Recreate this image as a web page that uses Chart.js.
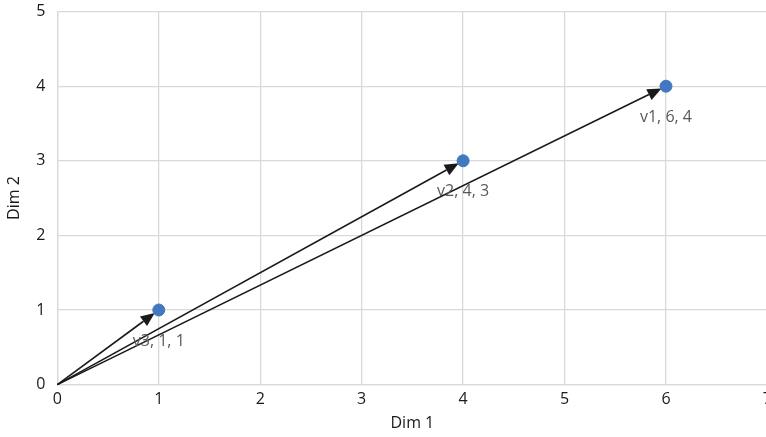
<!DOCTYPE html>
<html>
<head>
<meta charset="utf-8">
<script src="https://cdn.jsdelivr.net/npm/chart.js@4"></script>
<style>
    html, body { margin: 0; padding: 0; background: #fff; overflow: hidden; }
    #wrap { width: 777px; height: 447px; margin-top: -10px; }
</style>
</head>
<body>
<div id="wrap"><canvas id="vectorChart"></canvas></div>
<script>
const vectorNames = ['v1', 'v2', 'v3'];
const dim1 = [6, 4, 1];
const dim2 = [4, 3, 1];
const xTicks = [0, 1, 2, 3, 4, 5, 6, 7];
const yTicks = [0, 1, 2, 3, 4, 5];

const FONT = '"Open Sans", "Noto Sans", sans-serif';

// arrows from the origin to every point, drawn under the markers
const arrowPlugin = {
    id: 'arrows',
    beforeDatasetsDraw(chart) {
        const { ctx, scales: { x, y } } = chart;
        const x0 = x.getPixelForValue(0);
        const y0 = y.getPixelForValue(0);
        ctx.save();
        ctx.strokeStyle = '#1a1a1a';
        ctx.fillStyle = '#1a1a1a';
        ctx.lineWidth = 1.6;
        dim1.forEach((v, i) => {
            const px = x.getPixelForValue(v);
            const py = y.getPixelForValue(dim2[i]);
            const ang = Math.atan2(py - y0, px - x0);
            const tipX = px - Math.cos(ang) * 5;
            const tipY = py - Math.sin(ang) * 5;
            const len = 14, half = 6;
            const bx = tipX - Math.cos(ang) * len;
            const by = tipY - Math.sin(ang) * len;
            ctx.beginPath();
            ctx.moveTo(x0, y0);
            ctx.lineTo(bx, by);
            ctx.stroke();
            ctx.beginPath();
            ctx.moveTo(tipX, tipY);
            ctx.lineTo(bx - Math.sin(ang) * half, by + Math.cos(ang) * half);
            ctx.lineTo(bx + Math.sin(ang) * half, by - Math.cos(ang) * half);
            ctx.closePath();
            ctx.fill();
        });
        ctx.restore();
    },
    afterDatasetsDraw(chart) {
        const { ctx, scales: { x, y } } = chart;
        ctx.save();
        ctx.fillStyle = '#595959';
        ctx.font = '16px ' + FONT;
        ctx.textAlign = 'center';
        ctx.textBaseline = 'middle';
        dim1.forEach((v, i) => {
            const px = x.getPixelForValue(v);
            const py = y.getPixelForValue(dim2[i]);
            ctx.fillText(vectorNames[i] + ', ' + v + ', ' + dim2[i], px, py + 31);
        });
        ctx.restore();
    }
};

const points = dim1.map((v, i) => ({ x: v, y: dim2[i] }));

new Chart(document.getElementById('vectorChart'), {
    type: 'scatter',
    data: {
        datasets: [{
            label: 'Vectors',
            data: points,
            backgroundColor: '#4178c0',
            borderColor: '#4178c0',
            pointRadius: 6,
            pointHoverRadius: 6
        }]
    },
    options: {
        responsive: true,
        maintainAspectRatio: false,
        animation: false,
        layout: { padding: { top: 1, left: 5, right: 0, bottom: 4 } },
        plugins: {
            legend: { display: false },
            tooltip: { enabled: false }
        },
        scales: {
            x: {
                type: 'linear',
                min: 0,
                max: 7,
                afterBuildTicks: (axis) => { axis.ticks = xTicks.map(v => ({ value: v })); },
                grid: { color: '#d9d9d9', lineWidth: 1.3, drawTicks: false },
                border: { color: '#d9d9d9', width: 1.3 },
                ticks: { color: '#1a1a1a', font: { family: FONT, size: 16 }, padding: 5, maxRotation: 0 },
                title: { display: true, text: 'Dim 1', color: '#1a1a1a', font: { family: FONT, size: 16 }, padding: { top: 0, bottom: 0 } }
            },
            y: {
                type: 'linear',
                min: 0,
                max: 5,
                afterBuildTicks: (axis) => { axis.ticks = yTicks.map(v => ({ value: v })); },
                grid: { color: '#d9d9d9', lineWidth: 1.3, drawTicks: false },
                border: { color: '#d9d9d9', width: 1.3 },
                ticks: { color: '#1a1a1a', font: { family: FONT, size: 16 }, padding: 12 },
                title: { display: true, text: 'Dim 2', color: '#1a1a1a', font: { family: FONT, size: 16 }, padding: { top: 0, bottom: 0 } }
            }
        }
    },
    plugins: [arrowPlugin]
});
</script>
</body>
</html>
